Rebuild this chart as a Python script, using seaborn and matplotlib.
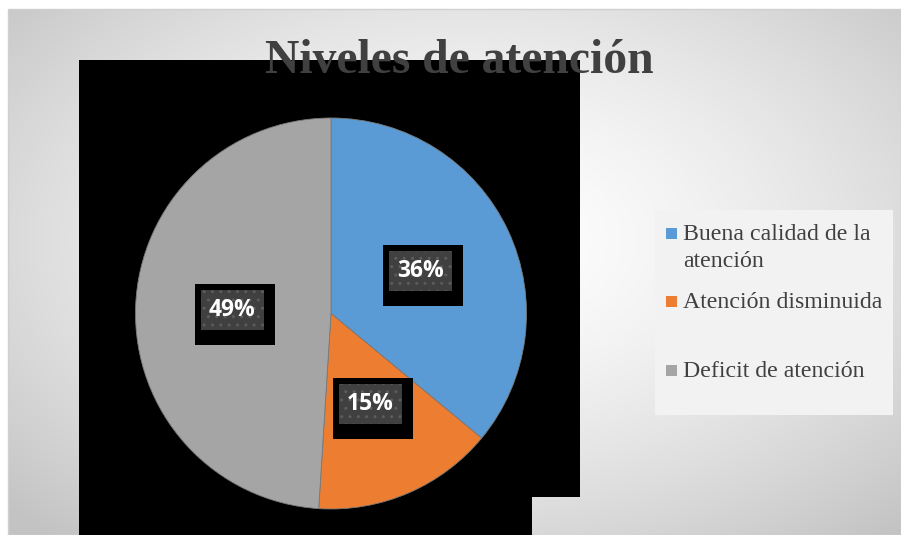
import numpy as np
import matplotlib
matplotlib.use("Agg")
import matplotlib.pyplot as plt
from matplotlib.patches import Rectangle, Polygon
import seaborn as sns

# ---- data ----
title = "Niveles de atención"
categories = ["Buena calidad de la\natención", "Atención disminuida", "Deficit de atención"]
values = [36, 15, 49]
colors = ["#5B9BD5", "#ED7D31", "#A5A5A5"]

sns.set_style("white")
plt.rcParams['font.family'] = ['Liberation Serif', 'DejaVu Sans']

W, H = 901, 535
fig = plt.figure(figsize=(W / 100, H / 100), dpi=100)
fig.patch.set_facecolor("white")

# background axes in pixel coordinates
bg = fig.add_axes([0, 0, 1, 1])
bg.set_xlim(0, W)
bg.set_ylim(H, 0)
bg.axis("off")

# radial gradient chart area
xs = np.linspace(8, W, 450)
ys = np.linspace(9, H, 270)
X, Y = np.meshgrid(xs, ys)
r = np.sqrt(((X - 470) / 450) ** 2 + ((Y - 240) / 280) ** 2) / np.sqrt(2)
v = (255 - 60 * np.clip(r, 0, 1) ** 1.5) / 255.0
img = np.dstack([v, v, v])
bg.imshow(img, extent=(8, W, H, 9), aspect="auto", zorder=0, interpolation="bilinear")
bg.add_patch(Rectangle((8, 9), W - 8, H - 9, fill=False, edgecolor="#d0d0d0", lw=1, zorder=1))

# black plot-area artefact
bg.add_patch(Polygon([(79, 60), (580, 60), (580, 497), (532, 497), (532, H), (79, H)],
                     closed=True, facecolor="black", edgecolor="none", zorder=2))

# title
bg.text(459, 73, title, ha="center", va="baseline", fontsize=34.3, fontweight="bold",
        color="#404040", family=["Liberation Serif", "DejaVu Serif"], zorder=5)

# legend box
bg.add_patch(Rectangle((655, 210), 238, 205, facecolor="#f2f2f2", edgecolor="none", zorder=3))
baselines = [240, 308, 377]
for lab, col, yb in zip(categories, colors, baselines):
    bg.add_patch(Rectangle((666, yb - 12), 11, 11, facecolor=col, edgecolor="none", zorder=4))
    for i, line in enumerate(lab.split("\n")):
        bg.text(683, yb + 27 * i, line, ha="left", va="baseline", fontsize=17.2, color="#404040",
                family=["Liberation Serif", "DejaVu Serif"], zorder=4)

# pie axes: 400x400 px centred at (331, 313.5)
cx, cy, R = 331, 313.5, 195.5
ax = fig.add_axes([(cx - 200) / W, (H - cy - 200) / H, 400 / W, 400 / H])
ax.patch.set_alpha(0)
wedges, _ = ax.pie(values, colors=colors, startangle=90, counterclock=False, radius=R,
                   wedgeprops=dict(edgecolor="#7a7a7a", linewidth=0.6))
ax.set_xlim(-200, 200)
ax.set_ylim(-200, 200)
ax.set_aspect("auto")
ax.axis("off")

for w, val in zip(wedges, values):
    ang = np.deg2rad((w.theta1 + w.theta2) / 2)
    tx = 0.505 * R * np.cos(ang)
    ty = 0.505 * R * np.sin(ang)
    ax.add_patch(Rectangle((tx - 37, ty - 35), 80, 61, facecolor="black", edgecolor="none",
                           zorder=5, clip_on=False))
    ax.add_patch(Rectangle((tx - 31.5, ty - 20), 63, 40, facecolor="#404040",
                           edgecolor="#5c5c5c", hatch="..", linewidth=0, zorder=6, clip_on=False))
    ax.text(tx, ty, f"{val}%", ha="center", va="center", color="white", fontsize=16.5,
            fontweight="bold", family=["Open Sans", "DejaVu Sans"], zorder=7)

fig.savefig("out.png", dpi=100)
